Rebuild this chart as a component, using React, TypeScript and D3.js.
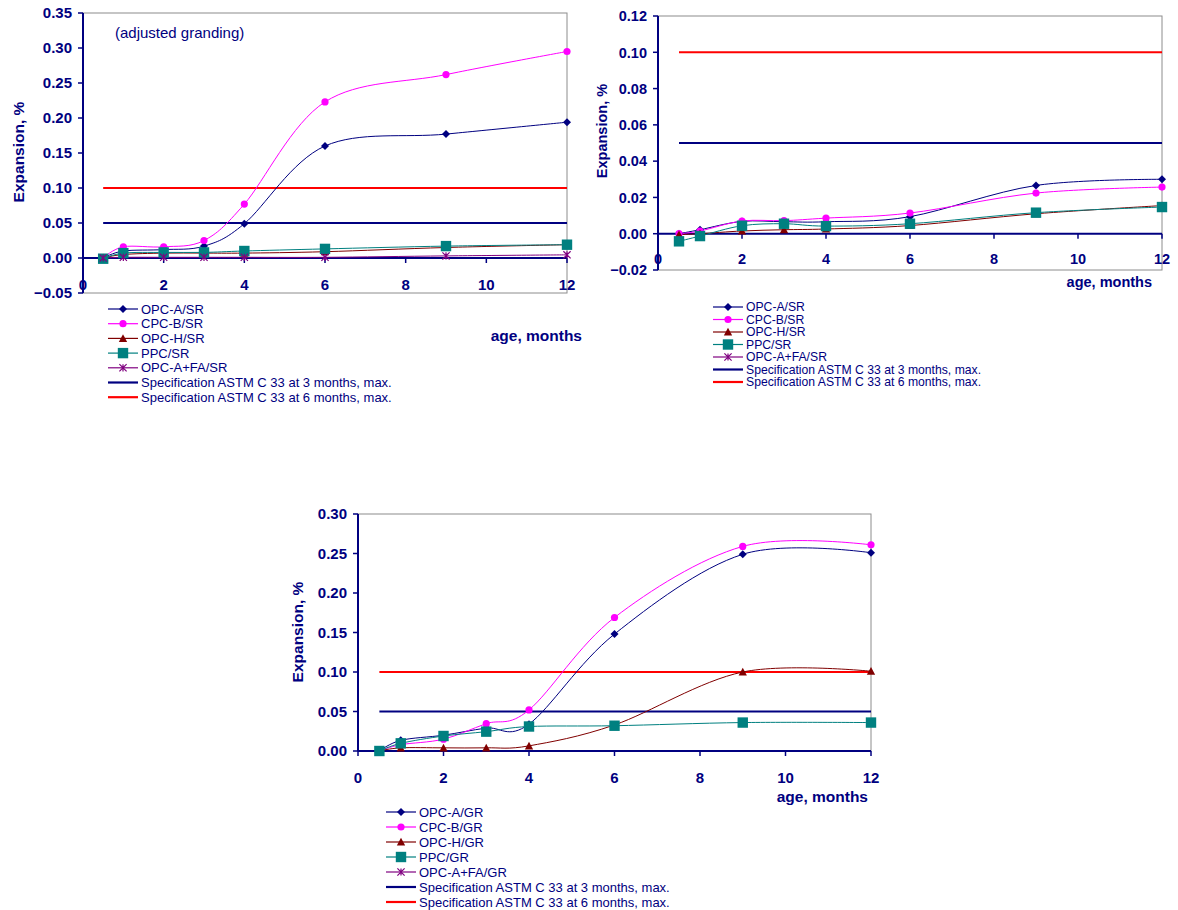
import React, { useRef, useEffect } from 'react';
import * as d3 from 'd3';

// ages at which expansion was measured (months)
const months = [0.5, 1, 2, 3, 4, 6, 9, 12];
const xTicks = [0, 2, 4, 6, 8, 10, 12];

// top left: sulfate resisting cements, adjusted grinding
const opcA_SR_adj = [0, 0.010, 0.012, 0.017, 0.049, 0.160, 0.177, 0.194];
const cpcB_SR_adj = [0, 0.016, 0.016, 0.025, 0.077, 0.223, 0.262, 0.295];
const opcH_SR_adj = [0, 0.005, 0.007, 0.007, 0.007, 0.009, 0.015, 0.019];
const ppc_SR_adj = [-0.001, 0.007, 0.008, 0.008, 0.010, 0.013, 0.017, 0.019];
const opcAFA_SR_adj = [0, 0.001, 0.001, 0.001, 0.001, 0.001, 0.003, 0.0045];

// top right: sulfate resisting cements
const opcA_SR = [0, 0.0022, 0.0068, 0.0066, 0.0066, 0.0094, 0.0266, 0.030];
const cpcB_SR = [0, 0.0015, 0.0070, 0.0072, 0.0086, 0.0114, 0.0224, 0.0257];
const opcH_SR = [-0.0005, 0, 0.0015, 0.0022, 0.0026, 0.0045, 0.0110, 0.0155];
const ppc_SR = [-0.0042, -0.0013, 0.0044, 0.0055, 0.0042, 0.0055, 0.0116, 0.0147];
const opcAFA_SR: number[] = [];

// bottom: general purpose cements
const opcA_GR = [0, 0.0135, 0.020, 0.029, 0.034, 0.148, 0.249, 0.251];
const cpcB_GR = [0, 0.008, 0.015, 0.0346, 0.052, 0.169, 0.259, 0.261];
const opcH_GR = [0, 0.004, 0.004, 0.004, 0.0065, 0.033, 0.100, 0.101];
const ppc_GR = [0, 0.0097, 0.019, 0.0245, 0.031, 0.032, 0.036, 0.036];
const opcAFA_GR: number[] = [];

// ASTM C 33 limits
const specX = [0.5, 12];
const spec3Months = 0.05;
const spec6Months = 0.1;

const yTicksTop = [-0.05, 0, 0.05, 0.1, 0.15, 0.2, 0.25, 0.3, 0.35];
const yTicksRight = [-0.02, 0, 0.02, 0.04, 0.06, 0.08, 0.1, 0.12];
const yTicksBottom = [0, 0.05, 0.1, 0.15, 0.2, 0.25, 0.3];

const NAVY = '#000080';
const FONT = '"Liberation Sans", Arial, sans-serif';

const seriesStyle = [
  { color: '#000080', marker: 'diamond' },
  { color: '#FF00FF', marker: 'circle' },
  { color: '#800000', marker: 'triangle' },
  { color: '#008080', marker: 'square' },
  { color: '#800080', marker: 'star' },
];

function drawMarker(g, type, cx, cy, color, s) {
  if (type === 'diamond') {
    const r = s * 0.5;
    g.append('path')
      .attr('d', `M${cx},${cy - r}L${cx + r},${cy}L${cx},${cy + r}L${cx - r},${cy}Z`)
      .attr('fill', color);
  } else if (type === 'circle') {
    g.append('circle').attr('cx', cx).attr('cy', cy).attr('r', s * 0.45).attr('fill', color);
  } else if (type === 'triangle') {
    const r = s * 0.52;
    g.append('path')
      .attr('d', `M${cx},${cy - r}L${cx + r},${cy + r * 0.85}L${cx - r},${cy + r * 0.85}Z`)
      .attr('fill', color);
  } else if (type === 'square') {
    const r = s * 0.65;
    g.append('rect')
      .attr('x', cx - r).attr('y', cy - r)
      .attr('width', r * 2).attr('height', r * 2)
      .attr('fill', color);
  } else if (type === 'star') {
    const r = s * 0.45;
    g.append('path')
      .attr('d', `M${cx - r},${cy - r}L${cx + r},${cy + r}M${cx - r},${cy + r}L${cx + r},${cy - r}M${cx},${cy - r}L${cx},${cy + r}`)
      .attr('stroke', color)
      .attr('stroke-width', 1.2)
      .attr('fill', 'none');
  }
}

function drawChart(svg, cfg) {
  const g = svg.append('g');

  const x = d3.scaleLinear().domain([0, 12]).range([cfg.left, cfg.right]);
  const y = d3.scaleLinear().domain(cfg.yDomain).range([cfg.bottom, cfg.top]);

  // plot area border
  g.append('rect')
    .attr('x', cfg.left).attr('y', cfg.top)
    .attr('width', cfg.right - cfg.left).attr('height', cfg.bottom - cfg.top)
    .attr('fill', 'none')
    .attr('stroke', '#8c8c8c')
    .attr('stroke-width', 1);

  // horizontal axis crosses at 0
  const y0 = y(0);
  g.append('line')
    .attr('x1', cfg.left).attr('x2', cfg.right)
    .attr('y1', y0).attr('y2', y0)
    .attr('stroke', NAVY).attr('stroke-width', 2);
  g.selectAll('.xtick')
    .data(xTicks)
    .enter()
    .append('line')
    .attr('x1', d => x(d)).attr('x2', d => x(d))
    .attr('y1', y0).attr('y2', y0 + 5)
    .attr('stroke', NAVY).attr('stroke-width', 1.5);
  g.selectAll('.xlabel')
    .data(xTicks)
    .enter()
    .append('text')
    .attr('x', d => x(d))
    .attr('y', y0 + cfg.xLabelOffset)
    .attr('text-anchor', 'middle')
    .attr('font-family', FONT)
    .attr('font-weight', 'bold')
    .attr('font-size', cfg.tickFont)
    .attr('fill', NAVY)
    .text(d => d);

  // vertical axis
  g.append('line')
    .attr('x1', cfg.left).attr('x2', cfg.left)
    .attr('y1', cfg.top).attr('y2', cfg.bottom)
    .attr('stroke', NAVY).attr('stroke-width', 2);
  g.selectAll('.ytick')
    .data(cfg.yTicks)
    .enter()
    .append('line')
    .attr('x1', cfg.left - 5).attr('x2', cfg.left)
    .attr('y1', d => y(d)).attr('y2', d => y(d))
    .attr('stroke', NAVY).attr('stroke-width', 1.5);
  g.selectAll('.ylabel')
    .data(cfg.yTicks)
    .enter()
    .append('text')
    .attr('x', cfg.left - 11)
    .attr('y', d => y(d))
    .attr('dy', '0.36em')
    .attr('text-anchor', 'end')
    .attr('font-family', FONT)
    .attr('font-weight', 'bold')
    .attr('font-size', cfg.tickFont)
    .attr('fill', NAVY)
    .text(d => d3.format('.2f')(d));

  // spec limits
  const specs = [
    { v: spec3Months, color: NAVY },
    { v: spec6Months, color: '#FF0000' },
  ];
  specs.forEach(s => {
    g.append('line')
      .attr('x1', x(specX[0])).attr('x2', x(specX[1]))
      .attr('y1', y(s.v)).attr('y2', y(s.v))
      .attr('stroke', s.color).attr('stroke-width', 2);
  });

  // measured series, smoothed like the spreadsheet lines
  const line = d3.line()
    .x(d => x(d[0]))
    .y(d => y(d[1]))
    .curve(d3.curveCatmullRom.alpha(0));

  cfg.series.forEach((vals, i) => {
    if (!vals.length) return;
    const st = seriesStyle[i];
    const pts = vals.map((v, k) => [months[k], v]);
    g.append('path')
      .attr('d', line(pts))
      .attr('fill', 'none')
      .attr('stroke', st.color)
      .attr('stroke-width', 1);
  });
  cfg.series.forEach((vals, i) => {
    const st = seriesStyle[i];
    vals.forEach((v, k) => drawMarker(g, st.marker, x(months[k]), y(v), st.color, cfg.markerSize));
  });

  // axis titles
  g.append('text')
    .attr('transform', `translate(${cfg.yTitleX},${cfg.yTitleY}) rotate(-90)`)
    .attr('text-anchor', 'middle')
    .attr('dy', '0.36em')
    .attr('font-family', FONT)
    .attr('font-weight', 'bold')
    .attr('font-size', cfg.titleFont)
    .attr('fill', NAVY)
    .text('Expansion, %');
  g.append('text')
    .attr('x', cfg.xTitleX).attr('y', cfg.xTitleY)
    .attr('text-anchor', 'end')
    .attr('font-family', FONT)
    .attr('font-weight', 'bold')
    .attr('font-size', cfg.titleFont)
    .attr('fill', NAVY)
    .text('age, months');

  if (cfg.note) {
    g.append('text')
      .attr('x', cfg.left + 32).attr('y', cfg.top + 25)
      .attr('font-family', FONT)
      .attr('font-size', 15)
      .attr('fill', NAVY)
      .text(cfg.note);
  }

  // legend
  const leg = g.append('g').attr('transform', `translate(${cfg.legX},${cfg.legY})`);
  const legLen = 30;
  const entries = [
    ...cfg.names.map((n, i) => ({ name: n, color: seriesStyle[i].color, marker: seriesStyle[i].marker, w: 1.2 })),
    { name: 'Specification ASTM C 33 at 3 months, max.', color: NAVY, marker: null, w: 2.2 },
    { name: 'Specification ASTM C 33 at 6 months, max.', color: '#FF0000', marker: null, w: 2.2 },
  ];
  entries.forEach((e, i) => {
    const ly = i * cfg.legStep;
    leg.append('line')
      .attr('x1', 0).attr('x2', legLen)
      .attr('y1', ly).attr('y2', ly)
      .attr('stroke', e.color).attr('stroke-width', e.w);
    if (e.marker) drawMarker(leg, e.marker, legLen / 2, ly, e.color, cfg.markerSize);
    leg.append('text')
      .attr('x', legLen + 3).attr('y', ly)
      .attr('dy', '0.36em')
      .attr('font-family', FONT)
      .attr('font-size', cfg.legFont)
      .attr('fill', NAVY)
      .text(e.name);
  });
}

const srNames = ['OPC-A/SR', 'CPC-B/SR', 'OPC-H/SR', 'PPC/SR', 'OPC-A+FA/SR'];
const grNames = ['OPC-A/GR', 'CPC-B/GR', 'OPC-H/GR', 'PPC/GR', 'OPC-A+FA/GR'];

export default function App() {
  const svgRef = useRef(null);

  useEffect(() => {
    const svg = d3.select(svgRef.current);
    svg.selectAll('*').remove();

    drawChart(svg, {
      left: 83, right: 567, top: 13, bottom: 293,
      yDomain: [-0.05, 0.35], yTicks: yTicksTop,
      series: [opcA_SR_adj, cpcB_SR_adj, opcH_SR_adj, ppc_SR_adj, opcAFA_SR_adj],
      names: srNames,
      xLabelOffset: 32, tickFont: 15, titleFont: 15.5, markerSize: 8,
      yTitleX: 18, yTitleY: 152,
      xTitleX: 582, xTitleY: 341,
      note: '(adjusted granding)',
      legX: 108, legY: 309, legStep: 14.7, legFont: 13,
    });

    drawChart(svg, {
      left: 658, right: 1162, top: 16, bottom: 270,
      yDomain: [-0.02, 0.12], yTicks: yTicksRight,
      series: [opcA_SR, cpcB_SR, opcH_SR, ppc_SR, opcAFA_SR],
      names: srNames,
      xLabelOffset: 30, tickFont: 14.5, titleFont: 14.5, markerSize: 8,
      yTitleX: 602, yTitleY: 131,
      xTitleX: 1152, xTitleY: 287,
      legX: 713, legY: 307, legStep: 12.5, legFont: 12.2,
    });

    drawChart(svg, {
      left: 358, right: 871, top: 514, bottom: 751,
      yDomain: [0, 0.3], yTicks: yTicksBottom,
      series: [opcA_GR, cpcB_GR, opcH_GR, ppc_GR, opcAFA_GR],
      names: grNames,
      xLabelOffset: 32, tickFont: 15, titleFont: 15.5, markerSize: 8,
      yTitleX: 297, yTitleY: 632,
      xTitleX: 868, xTitleY: 802,
      legX: 386, legY: 812, legStep: 15, legFont: 13,
    });
  }, []);

  return (
    <svg
      ref={svgRef}
      width={1178}
      height={910}
      style={{ position: 'absolute', left: 0, top: 0, background: '#fff' }}
    />
  );
}
